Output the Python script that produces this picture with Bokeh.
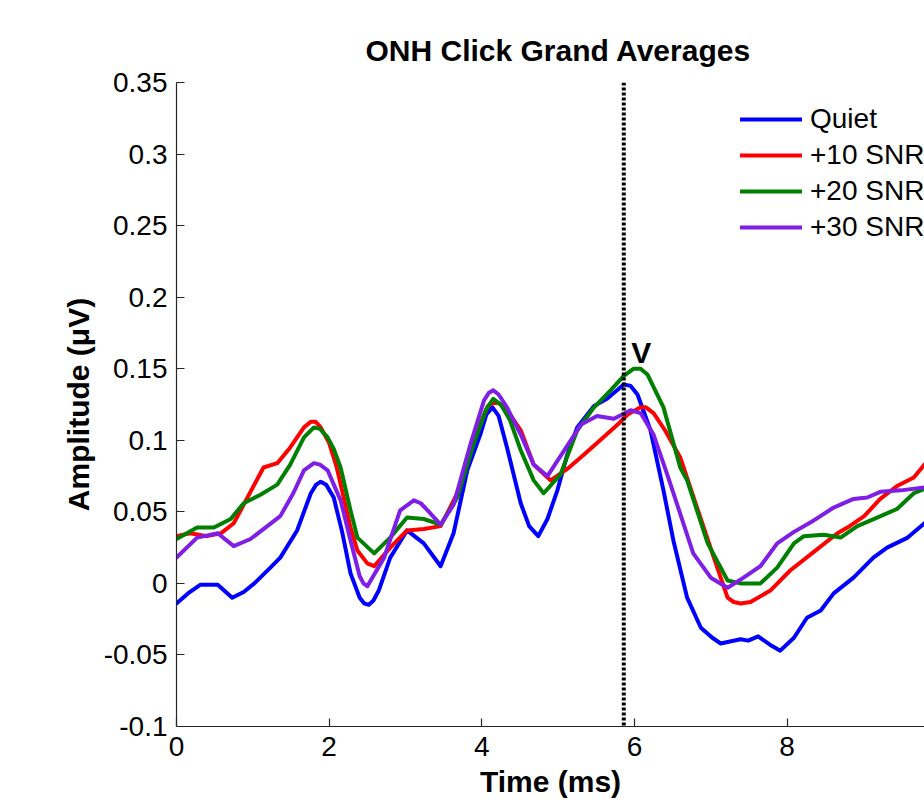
from bokeh.plotting import figure
from bokeh.models import Range1d, FixedTicker, Span, Label, Title, Legend, LegendItem
from bokeh.embed import file_html
from bokeh.resources import INLINE

# ---- data ----
t_quiet = [0, 0.15, 0.31, 0.54, 0.73, 0.88, 1.02, 1.23, 1.36, 1.58, 1.76, 1.83, 1.89, 1.96, 2.06, 2.17,
           2.28, 2.40, 2.46, 2.52, 2.58, 2.65, 2.80, 3.02, 3.24, 3.46, 3.63, 3.81, 3.98, 4.06, 4.14,
           4.22, 4.33, 4.51, 4.62, 4.74, 4.86, 4.99, 5.12, 5.25, 5.47, 5.64, 5.86, 5.95, 6.04, 6.21,
           6.38, 6.51, 6.69, 6.87, 7.02, 7.13, 7.39, 7.49, 7.62, 7.78, 7.91, 8.09, 8.26, 8.44, 8.61,
           8.87, 9.13, 9.31, 9.58, 9.80]
a_quiet = [-0.014, -0.007, -0.001, -0.001, -0.010, -0.006, 0.000, 0.011, 0.018, 0.037, 0.063, 0.069,
           0.071, 0.069, 0.060, 0.036, 0.007, -0.010, -0.014, -0.015, -0.012, -0.005, 0.018, 0.037,
           0.028, 0.012, 0.035, 0.079, 0.104, 0.118, 0.123, 0.117, 0.095, 0.056, 0.040, 0.033, 0.045,
           0.065, 0.090, 0.109, 0.124, 0.129, 0.139, 0.138, 0.132, 0.107, 0.065, 0.030, -0.010,
           -0.031, -0.038, -0.042, -0.039, -0.040, -0.037, -0.043, -0.047, -0.038, -0.024, -0.019,
           -0.007, 0.004, 0.018, 0.025, 0.032, 0.042]

t_snr10 = [0, 0.18, 0.40, 0.58, 0.75, 0.93, 1.14, 1.32, 1.49, 1.67, 1.76, 1.82, 1.89, 2.00, 2.10, 2.28,
           2.37, 2.50, 2.59, 2.80, 3.02, 3.24, 3.46, 3.68, 3.89, 4.08, 4.15, 4.22, 4.33, 4.51, 4.68,
           4.90, 5.12, 5.34, 5.55, 5.78, 5.91, 6.08, 6.15, 6.25, 6.40, 6.60, 6.82, 7.04, 7.22, 7.30,
           7.39, 7.52, 7.78, 8.04, 8.35, 8.66, 8.79, 9.01, 9.22, 9.44, 9.66, 9.80]
a_snr10 = [0.033, 0.035, 0.033, 0.035, 0.042, 0.060, 0.081, 0.084, 0.095, 0.109, 0.113, 0.113, 0.109,
           0.098, 0.081, 0.039, 0.023, 0.014, 0.012, 0.025, 0.037, 0.038, 0.040, 0.063, 0.100, 0.124,
           0.126, 0.126, 0.121, 0.107, 0.083, 0.072, 0.080, 0.090, 0.100, 0.111, 0.118, 0.123, 0.123,
           0.119, 0.107, 0.088, 0.053, 0.018, -0.010, -0.013, -0.014, -0.013, -0.005, 0.009, 0.022,
           0.035, 0.039, 0.047, 0.059, 0.068, 0.074, 0.083]

t_snr20 = [0, 0.27, 0.49, 0.71, 0.88, 1.10, 1.32, 1.49, 1.67, 1.80, 1.88, 1.98, 2.06, 2.15, 2.28, 2.37,
           2.59, 2.80, 3.02, 3.24, 3.46, 3.68, 3.89, 4.06, 4.15, 4.25, 4.37, 4.51, 4.68, 4.81, 5.03,
           5.25, 5.47, 5.69, 5.86, 5.99, 6.08, 6.17, 6.38, 6.60, 6.69, 6.96, 7.22, 7.39, 7.52, 7.65,
           7.87, 8.09, 8.22, 8.48, 8.70, 8.92, 9.18, 9.44, 9.66, 9.80]
a_snr20 = [0.031, 0.039, 0.039, 0.045, 0.056, 0.062, 0.069, 0.083, 0.102, 0.109, 0.108, 0.102, 0.094,
           0.081, 0.051, 0.032, 0.021, 0.032, 0.046, 0.045, 0.041, 0.060, 0.097, 0.122, 0.129, 0.125,
           0.114, 0.093, 0.072, 0.063, 0.076, 0.107, 0.123, 0.135, 0.145, 0.150, 0.150, 0.146, 0.123,
           0.081, 0.072, 0.028, 0.002, 0.000, 0.000, 0.000, 0.011, 0.028, 0.033, 0.034, 0.032, 0.040,
           0.046, 0.052, 0.063, 0.066]

t_snr30 = [0, 0.27, 0.54, 0.75, 0.97, 1.19, 1.36, 1.53, 1.67, 1.80, 1.88, 1.98, 2.15, 2.28, 2.40, 2.45,
           2.50, 2.72, 2.93, 3.11, 3.20, 3.29, 3.46, 3.63, 3.85, 4.03, 4.09, 4.15, 4.22, 4.33, 4.51,
           4.68, 4.86, 5.08, 5.30, 5.51, 5.73, 5.95, 6.08, 6.25, 6.43, 6.56, 6.77, 7.00, 7.22, 7.43,
           7.65, 7.87, 8.09, 8.35, 8.61, 8.87, 9.05, 9.22, 9.49, 9.80]
a_snr30 = [0.018, 0.032, 0.035, 0.026, 0.031, 0.040, 0.047, 0.063, 0.079, 0.084, 0.083, 0.079, 0.058,
           0.030, 0.005, 0.000, -0.002, 0.018, 0.051, 0.058, 0.056, 0.051, 0.041, 0.055, 0.097, 0.128,
           0.133, 0.135, 0.132, 0.123, 0.104, 0.083, 0.075, 0.093, 0.111, 0.117, 0.115, 0.121, 0.119,
           0.104, 0.076, 0.055, 0.021, 0.004, -0.003, 0.004, 0.012, 0.028, 0.036, 0.044, 0.053, 0.059,
           0.060, 0.064, 0.065, 0.067]

series_names = ["Quiet", "+10 SNR", "+20 SNR", "+30 SNR"]
series_colors = ["#0000FF", "#FF0000", "#008000", "#7F1FE6"]

x_ticks = [0, 2, 4, 6, 8]
y_ticks = [-0.1, -0.05, 0, 0.05, 0.1, 0.15, 0.2, 0.25, 0.3, 0.35]
y_tick_labels = ["-0.1", "-0.05", "0", "0.05", "0.1", "0.15", "0.2", "0.25", "0.3", "0.35"]

wave_v_latency = 5.86
wave_v_label = "V"
wave_v_label_pos = (6.09, 0.161)

title_text = "ONH Click Grand Averages"
x_label = "Time (ms)"
y_label = "Amplitude (\u03bcV)"

FONT = "Liberation Sans"

p = figure(width=924, height=803, output_backend="svg", toolbar_location=None,
           x_range=Range1d(0, 9.80), y_range=Range1d(-0.1, 0.35),
           min_border_left=176, min_border_right=0, min_border_top=82, min_border_bottom=77)
p.outline_line_color = None
p.xgrid.grid_line_color = None
p.ygrid.grid_line_color = None
p.background_fill_color = "white"
p.border_fill_color = "white"

p.title = Title(text=title_text, align="left", offset=189, standoff=31, text_font=FONT,
                text_font_size="30px", text_font_style="bold", text_color="black")

for ax in (p.xaxis[0], p.yaxis[0]):
    ax.axis_line_color = "#262626"
    ax.axis_line_width = 1.2
    ax.major_tick_line_color = "#262626"
    ax.major_tick_line_width = 1.2
    ax.major_tick_in = 8
    ax.major_tick_out = 0
    ax.minor_tick_in = 0
    ax.minor_tick_out = 0
    ax.major_label_text_font = FONT
    ax.major_label_text_font_size = "28px"
    ax.major_label_text_color = "black"
    ax.axis_label_text_font = FONT
    ax.axis_label_text_font_size = "30px"
    ax.axis_label_text_font_style = "bold"
    ax.axis_label_text_color = "black"

p.xaxis.ticker = FixedTicker(ticks=x_ticks)
p.yaxis.ticker = FixedTicker(ticks=y_ticks)
p.yaxis.major_label_overrides = {v: s for v, s in zip(y_ticks, y_tick_labels)}
p.xaxis.major_label_standoff = 10
p.yaxis.major_label_standoff = 9
p.xaxis.axis_label = x_label
p.yaxis.axis_label = y_label
p.xaxis.axis_label_standoff = 6
p.yaxis.axis_label_standoff = 6

renderers = []
for (tt, aa), col in zip([(t_quiet, a_quiet), (t_snr10, a_snr10), (t_snr20, a_snr20), (t_snr30, a_snr30)],
                         series_colors):
    r = p.line(tt, aa, line_color=col, line_width=4, line_join="round", line_cap="round")
    renderers.append(r)

span = Span(location=wave_v_latency, dimension="height", line_color="black", line_width=4,
            line_dash="3 2")
p.add_layout(span)

lab = Label(x=wave_v_label_pos[0], y=wave_v_label_pos[1], text=wave_v_label, text_font=FONT,
            text_font_size="30px", text_font_style="bold", text_align="center",
            text_baseline="alphabetic", text_color="black")
p.add_layout(lab)

legend = Legend(items=[LegendItem(label=n, renderers=[r]) for n, r in zip(series_names, renderers)],
                location=(564, 483), border_line_color=None, background_fill_alpha=0,
                padding=0, margin=0, spacing=4, glyph_width=62, glyph_height=30, label_height=30,
                label_standoff=8, label_text_font=FONT, label_text_font_size="28px",
                label_text_color="black")
p.add_layout(legend)

open("out.html", "w").write(file_html(p, INLINE))
